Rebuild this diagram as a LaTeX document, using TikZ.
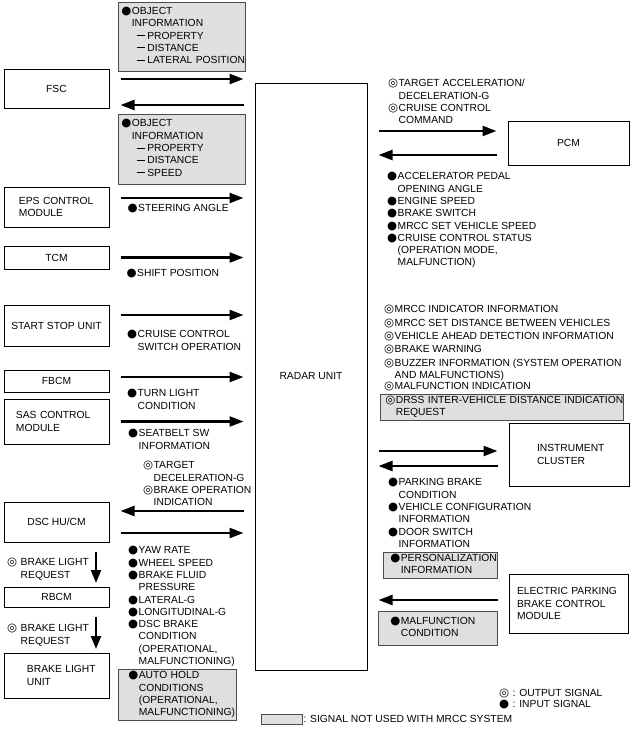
\documentclass[tikz,border=0pt]{standalone}
\usepackage{fontspec}
\setmainfont{Liberation Sans}
\newfontfamily\symfont{DejaVu Sans}
\usetikzlibrary{arrows.meta,calc}

\newcommand\lblfont{\fontsize{10.3}{12.3}\selectfont}
\newcommand\insig{\makebox[10.5pt][l]{\symfont\fontsize{11.5}{11.5}\selectfont ●}}
\newcommand\outsig{\makebox[10.5pt][l]{\symfont\fontsize{11.5}{11.5}\selectfont ◎}}
\newcommand\indsig{\makebox[10.5pt]{}}
\newcommand\subline{\indsig\hspace{5pt}\rule[3.4pt]{8pt}{0.6pt}\hspace{2.5pt}}
\newcommand\siglist[1]{\begin{tabular}{@{}l@{}}#1\end{tabular}}

\tikzset{
  unitbox/.style={draw, line width=1pt, inner sep=0pt, minimum width=105pt, font=\lblfont, align=center},
  greybox/.style={draw=black!70, fill=gray!25, line width=0.7pt, anchor=north west, inner xsep=4.5pt, inner ysep=3.5pt, align=left, font=\lblfont},
  sigtext/.style={anchor=north west, inner sep=0pt, font=\lblfont},
  sig/.style={line width=2.4pt, -{Triangle[length=14pt,width=10pt]}, shorten <=11pt, shorten >=11pt},
  sigdown/.style={line width=2.4pt, -{Triangle[length=13pt,width=10pt]}, shorten <=9pt, shorten >=3.5pt}
}

\begin{document}
\begin{tikzpicture}[x=1pt, y=-1pt]
    \useasboundingbox (0,0) rectangle (632,729);

    \node[unitbox, minimum height=39pt] (fsc) at (56.5,88.5) {FSC};
    \node[unitbox, minimum height=40pt, text width=75pt, inner xsep=15pt, align=left] (eps) at (56.5,207) {EPS CONTROL\\MODULE};
    \node[unitbox, minimum height=23pt] (tcm) at (56.5,257.5) {TCM};
    \node[unitbox, minimum height=41pt] (ssu) at (56.5,325.5) {START STOP UNIT};
    \node[unitbox, minimum height=22pt] (fbcm) at (56.5,381) {FBCM};
    \node[unitbox, minimum height=45pt, text width=81pt, inner xsep=12pt, align=left] (sas) at (56.5,421.5) {SAS CONTROL\\MODULE};
    \node[unitbox, minimum height=40pt] (dsc) at (56.5,522) {DSC HU/CM};
    \node[unitbox, minimum height=20pt] (rbcm) at (56.5,597) {RBCM};
    \node[unitbox, minimum height=45pt, text width=82pt, inner xsep=11.5pt, align=left] (blu) at (56.5,675.5) {\hspace*{11.5pt}BRAKE LIGHT\\\hspace*{11.5pt}UNIT};
    \node[unitbox, minimum width=112pt, minimum height=587pt] (radar) at (311,376.5) {RADAR UNIT};
    \node[unitbox, minimum width=121pt, minimum height=44pt] (pcm) at (568.5,143) {PCM};
    \node[unitbox, minimum width=120pt, minimum height=63pt, text width=64pt, inner xsep=28pt, align=left] (ic) at (569,454.5) {INSTRUMENT\\CLUSTER};
    \node[unitbox, minimum width=119pt, minimum height=59pt, text width=103pt, inner xsep=8pt, align=left] (epb) at (568.5,603.5) {ELECTRIC PARKING\\BRAKE CONTROL\\MODULE};

    \draw[sig] ($(fsc.east)+(0,-9.5)$) -- ($(fsc.east -| radar.west)+(0,-9.5)$);
    \draw[sig] ($(fsc.east -| radar.west)+(0,16.5)$) -- ($(fsc.east)+(0,16.5)$);
    \draw[sig] ($(eps.east)+(0,-9)$) -- ($(eps.east -| radar.west)+(0,-9)$);
    \draw[sig] (tcm.east) -- (tcm.east -| radar.west);
    \draw[sig] ($(ssu.east)+(0,-10.5)$) -- ($(ssu.east -| radar.west)+(0,-10.5)$);
    \draw[sig] ($(fbcm.east)+(0,-4)$) -- ($(fbcm.east -| radar.west)+(0,-4)$);
    \draw[sig] (sas.east) -- (sas.east -| radar.west);
    \draw[sig] ($(dsc.east -| radar.west)+(0,-11)$) -- ($(dsc.east)+(0,-11)$);
    \draw[sig] ($(dsc.east)+(0,11)$) -- ($(dsc.east -| radar.west)+(0,11)$);
    \draw[sigdown] ($(dsc.south)+(39.5,0)$) -- ($(rbcm.north)+(39.5,0)$);
    \draw[sigdown] ($(rbcm.south)+(39.5,0)$) -- ($(blu.north)+(39.5,0)$);
    \draw[sig] ($(pcm.west -| radar.east)+(0,-12)$) -- ($(pcm.west)+(0,-12)$);
    \draw[sig] ($(pcm.west)+(0,12)$) -- ($(pcm.west -| radar.east)+(0,12)$);
    \draw[sig] ($(ic.west -| radar.east)+(0,-3.5)$) -- ($(ic.west)+(0,-3.5)$);
    \draw[sig] ($(ic.west)+(0,11.5)$) -- ($(ic.west -| radar.east)+(0,11.5)$);
    \draw[sig] ($(epb.west)+(0,-3.5)$) -- ($(epb.west -| radar.east)+(0,-3.5)$);

    % signals on the left
    \node[greybox, text width=121pt, inner xsep=3pt] (objfsc) at (118,2) {\siglist{\insig OBJECT\\ \indsig INFORMATION\\ \subline PROPERTY\\ \subline DISTANCE\\ \subline LATERAL POSITION}};
    \node[greybox, text width=121pt, inner xsep=3pt, inner ysep=4pt] (objeps) at (118,114) {\siglist{\insig OBJECT\\ \indsig INFORMATION\\ \subline PROPERTY\\ \subline DISTANCE\\ \subline SPEED}};
    \node[sigtext] (steer) at (127.5,203) {\siglist{\insig STEERING ANGLE}};
    \node[sigtext] (shift) at (126.5,268) {\siglist{\insig SHIFT POSITION}};
    \node[sigtext] (cruisesw) at (127,329) {\siglist{\insig CRUISE CONTROL\\ \indsig SWITCH OPERATION}};
    \node[sigtext] (turn) at (127,388) {\siglist{\insig TURN LIGHT\\ \indsig CONDITION}};
    \node[sigtext] (belt) at (128,428) {\siglist{\insig SEATBELT SW\\ \indsig INFORMATION}};
    \node[sigtext] (decel) at (143,460) {\siglist{\outsig TARGET\\ \indsig DECELERATION-G\\ \outsig BRAKE OPERATION\\ \indsig INDICATION}};
    \node[sigtext] (dscin) at (128,545) {\siglist{\insig YAW RATE\\ \insig WHEEL SPEED\\ \insig BRAKE FLUID\\ \indsig PRESSURE\\ \insig LATERAL-G\\ \insig LONGITUDINAL-G\\ \insig DSC BRAKE\\ \indsig CONDITION\\ \indsig (OPERATIONAL,\\ \indsig MALFUNCTIONING)}};
    \node[greybox, text width=98pt, inner xsep=10pt, inner ysep=1pt] (hold) at (118,669) {\siglist{\insig AUTO HOLD\\ \indsig CONDITIONS\\ \indsig (OPERATIONAL,\\ \indsig MALFUNCTIONING)}};
    \node[sigtext] (req1) at (7,557) {\siglist{\outsig\hspace{3pt}BRAKE LIGHT\\ \indsig\hspace{3pt}REQUEST}};
    \node[sigtext] (req2) at (7,623) {\siglist{\outsig\hspace{3pt}BRAKE LIGHT\\ \indsig\hspace{3pt}REQUEST}};

    % signals on the right
    \node[sigtext] (pcmout) at (388,78) {\siglist{\outsig TARGET ACCELERATION/\\ \indsig DECELERATION-G\\ \outsig CRUISE CONTROL\\ \indsig COMMAND}};
    \node[sigtext] (pcmin) at (387,171) {\siglist{\insig ACCELERATOR PEDAL\\ \indsig OPENING ANGLE\\ \insig ENGINE SPEED\\ \insig BRAKE SWITCH\\ \insig MRCC SET VEHICLE SPEED\\ \insig CRUISE CONTROL STATUS\\ \indsig (OPERATION MODE,\\ \indsig MALFUNCTION)}};
    \node[sigtext] (icout) at (384,304) {\siglist{\outsig MRCC INDICATOR INFORMATION\\[1pt] \outsig MRCC SET DISTANCE BETWEEN VEHICLES\\[1pt] \outsig VEHICLE AHEAD DETECTION INFORMATION\\[1pt] \outsig BRAKE WARNING\\[1pt] \outsig BUZZER INFORMATION (SYSTEM OPERATION\\ \indsig AND MALFUNCTIONS)\\[-1pt] \outsig MALFUNCTION INDICATION}};
    \node[greybox, text width=233pt, inner xsep=5pt, inner ysep=0.5pt] (drss) at (380,394) {\siglist{\outsig DRSS INTER-VEHICLE DISTANCE INDICATION\\ \indsig REQUEST}};
    \node[sigtext] (icin) at (388,477) {\siglist{\insig PARKING BRAKE\\ \indsig CONDITION\\ \insig VEHICLE CONFIGURATION\\ \indsig INFORMATION\\ \insig DOOR SWITCH\\ \indsig INFORMATION}};
    \node[greybox, text width=100pt, inner xsep=7pt, inner ysep=0.5pt] (person) at (383,552) {\siglist{\insig PERSONALIZATION\\ \indsig INFORMATION}};
    \node[greybox, text width=95pt, inner xsep=12pt, inner ysep=4.7pt] (epbin) at (378,611) {\siglist{\insig MALFUNCTION\\ \indsig CONDITION}};

    % legend
    \node[sigtext] (legsig) at (499,688) {\siglist{\outsig\hspace{3pt}: OUTPUT SIGNAL\\[-1.8pt] \insig\hspace{3pt}: INPUT SIGNAL}};
    \node[draw=black!70, fill=gray!25, line width=0.7pt, minimum width=41pt, minimum height=10pt, inner sep=0pt] (legbox) at (281.5,719) {};
    \node[anchor=west, inner sep=1pt, font=\lblfont] (legtxt) at (legbox.east) {: SIGNAL NOT USED WITH MRCC SYSTEM};
\end{tikzpicture}
\end{document}
